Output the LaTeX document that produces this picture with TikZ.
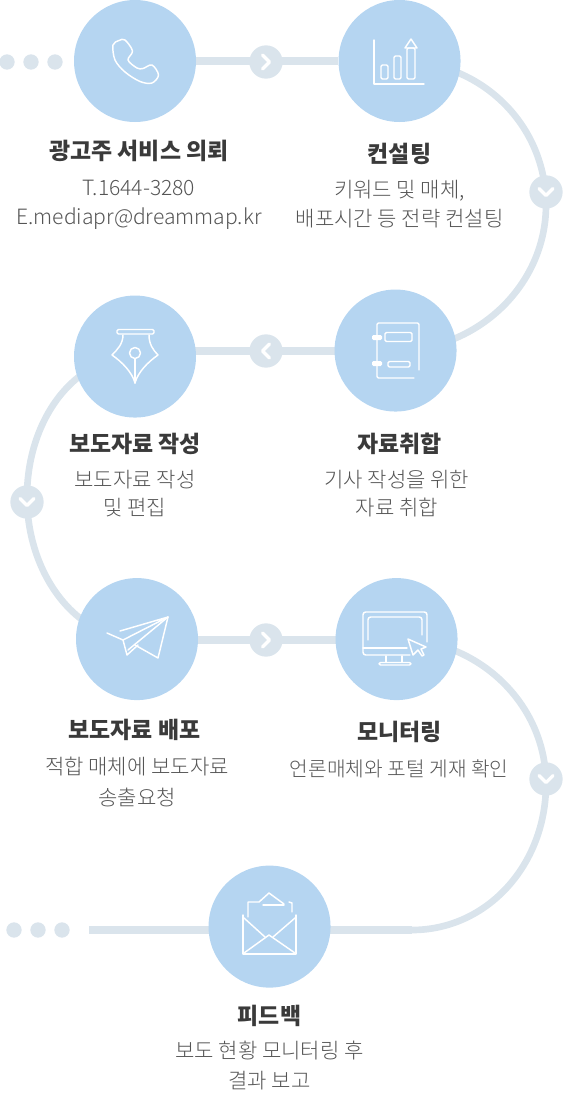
\documentclass[tikz,border=0pt]{standalone}
\usepackage{fontspec}
\setmainfont{Noto Sans CJK KR}
\newfontfamily\descfont{Noto Sans CJK KR Light}
\usetikzlibrary{positioning,backgrounds}
\definecolor{stepblue}{HTML}{B5D5F1}
\definecolor{flowgray}{HTML}{DAE4EC}
\definecolor{headgray}{HTML}{3A3A3A}
\definecolor{descgray}{HTML}{555555}
\begin{document}
\begin{tikzpicture}[x=.75pt,y=-.75pt,
 stepnode/.style={circle,fill=stepblue,minimum size=91.5pt,inner sep=0pt},
 badge/.style={circle,fill=flowgray,minimum size=25pt,inner sep=0pt},
 dotnode/.style={circle,fill=flowgray,minimum size=11.5pt,inner sep=0pt},
 flow/.style={draw=flowgray,line width=6pt},
 flowarc/.style={draw=flowgray,line width=5pt},
 chev/.style={draw=white,line width=2.4pt,line cap=round,line join=round},
 icon/.style={draw=white,line width=1.1pt,line join=round,line cap=round},
 head/.style={inner sep=0pt,text=headgray,text height=12pt,text depth=3pt,font=\fontsize{17.2pt}{20pt}\selectfont\bfseries},
 desc/.style={inner sep=0pt,align=center,text=descgray,font=\descfont\fontsize{15.8pt}{21.4pt}\selectfont}]
 \useasboundingbox (0,0) rectangle (568,1110);
 % steps
 \node[stepnode] (call) at (135,61) {};
 \node[stepnode,right=106.5pt of call] (consult) {};
 \node[stepnode,below=125.25pt of consult,xshift=-3pt] (collect) {};
 \node[stepnode,left=103.5pt of collect,yshift=-4.5pt] (write) {};
 \node[stepnode,below=120pt of write,xshift=1.5pt] (send) {};
 \node[stepnode,right=102.75pt of send] (monitor) {};
 \node[stepnode,below=123.75pt of monitor,xshift=-95.25pt] (feedback) {};
 % badges on the flow
 \node[badge] (next1) at (266,62) {};
 \node[badge] (next2) at (546,192) {};
 \node[badge] (next3) at (266,351) {};
 \node[badge] (next4) at (27,502) {};
 \node[badge] (next5) at (266,640) {};
 \node[badge] (next6) at (546,779) {};
 \foreach \n/\a in {next1/0,next2/-90,next3/180,next4/-90,next5/0,next6/-90}
  \draw[chev,shift={(\n)},rotate=\a] (-3.5,-7)--(3.5,0)--(-3.5,7);
 % dots
 \foreach \i/\x in {1/7,2/31,3/55} \node[dotnode] (dota\i) at (\x,62) {};
 \foreach \i/\x in {1/14,2/38,3/62} \node[dotnode] (dotb\i) at (\x,930) {};
 \coordinate (bend1) at (546,205);
 \coordinate (bend2) at (27,497);
 \coordinate (bend3) at (546,784);
 \coordinate (foot) at (412,930);
 \coordinate (tail) at (89,930);
 \begin{scope}[on background layer]
  \draw[flow] (call)--(consult);
  \draw[flowarc] (consult.center) .. controls +(81,0) and +(0,-81) .. (bend1) .. controls +(0,81) and +(81,0) .. (collect.center);
  \draw[flow] (next3 -| collect)--(next3 -| write);
  \draw[flowarc] (write.center) .. controls +(-60,0) and +(0,-78) .. (bend2) .. controls +(0,78) and +(-60,0) .. (send.center);
  \draw[flow] (next5 -| send)--(next5 -| monitor);
  \draw[flowarc] (monitor.center) .. controls +(81,0) and +(0,-81) .. (bend3) .. controls +(0,81) and +(75,0) .. (foot);
  \draw[flow] (tail)--(tail -| feedback)--(foot);
 \end{scope}
 % phone
 \draw[icon] plot[smooth cycle,tension=.55] coordinates {(113,45) (119,40.5) (125,40) (132.5,51) (128,60) (137,68) (143,68.5) (152,65) (158.5,75) (152,83) (140,81.5) (125,72) (115,60)};
 % chart
 \draw[icon] (374,40)--(374,84)--(424,84);
 \draw[icon,rounded corners=1pt] (381,65) rectangle (388,79);
 \draw[icon,rounded corners=1pt] (394,56) rectangle (401,79);
 \draw[icon,rounded corners=1pt] (407,48) rectangle (415,79);
 \draw[icon] (405,48)--(411,39)--(417,48)--cycle;
 % nib
 \draw[icon,rounded corners=1pt] (117,329.5) rectangle (154,334);
 \draw[icon] (123,335) .. controls (123,344) and (117,350) .. (112,355) .. controls (122,362) and (132,372) .. (135,383) .. controls (138,372) and (148,362) .. (158,355) .. controls (153,350) and (149,344) .. (149,335);
 \draw[icon] (135,353) circle (5.5);
 \draw[icon] (135,359)--(135,383);
 % notebook
 \draw[icon,rounded corners=1pt] (419,370)--(419,323)--(377,323)--(377,378)--(414,378);
 \draw[icon,rounded corners=1pt] (385,332.5) rectangle (412,341.5);
 \draw[icon,rounded corners=1pt] (388,361.5) rectangle (410,367);
 \fill[white,rounded corners=1pt] (372,335) rectangle (382,340);
 \fill[white,rounded corners=1pt] (372,361) rectangle (382,366);
 % plane
 \draw[icon] (120,631)--(168,617)--(123,640)--(107,633);
 \draw[icon] (123,640)--(127,655)--(138,645);
 \draw[icon] (168,617)--(128,650);
 \draw[icon] (135,645)--(158,658)--(168,617);
 % monitor
 \draw[icon,rounded corners=2pt] (427,642)--(427,612)--(363,612)--(363,655)--(410,655);
 \draw[icon,rounded corners=2pt] (368,640)--(368,617)--(422,617)--(422,635);
 \draw[icon] (363,648)--(407,648);
 \draw[icon] (386,656)--(386,662);
 \draw[icon] (402,656)--(402,662);
 \draw[icon,rounded corners=1pt] (379,662.5) rectangle (411,665);
 \draw[icon] (408,639)--(426,647)--(421,649)--(424,655)--(422,656)--(418,650)--(413,655)--cycle;
 % envelope
 \draw[icon] (243,915)--(243,954)--(296,954)--(296,915);
 \draw[icon] (244,918)--(265,937);
 \draw[icon] (295,918)--(273,937);
 \draw[icon] (244,953)--(269,935)--(295,953);
 \draw[icon] (248,917)--(248,902)--(259,902)--(269,893)--(284,904);
 \draw[icon] (263,905)--(284,905);
 \draw[icon] (289,902)--(292,903)--(292,912);
 % labels
 \node[head,below=16pt of call,xshift=3pt] (callhead) {광고주 서비스 의뢰};
 \node[desc,below=12pt of callhead] (calldesc) {T.1644-3280\\E.mediapr@dreammap.kr};
 \node[head,below=17.75pt of consult] (consulthead) {컨설팅};
 \node[desc,below=10.25pt of consulthead] (consultdesc) {키워드 및 매체,\\배포시간 등 전략 컨설팅};
 \node[head,below=18.5pt of collect,xshift=3pt] (collecthead) {자료취합};
 \node[desc,below=9.5pt of collecthead,xshift=-2pt] (collectdesc) {기사 작성을 위한\\자료 취합};
 \node[head,below=14pt of write] (writehead) {보도자료 작성};
 \node[desc,below=9.5pt of writehead] (writedesc) {보도자료 작성\\및 편집};
 \node[head,below=16.25pt of send,xshift=-2pt] (sendhead) {보도자료 배포};
 \node[desc,below=10.5pt of sendhead,xshift=2pt,font=\descfont\fontsize{15.8pt}{23.2pt}\selectfont] (senddesc) {적합 매체에 보도자료\\송출요청};
 \node[head,below=17.75pt of monitor,xshift=2pt] (monitorhead) {모니터링};
 \node[desc,below=11.25pt of monitorhead,font=\descfont\fontsize{15.2pt}{21.4pt}\selectfont] (monitordesc) {언론매체와 포털 게재 확인};
 \node[head,below=15.5pt of feedback] (feedbackhead) {피드백};
 \node[desc,below=9pt of feedbackhead,font=\descfont\fontsize{15.8pt}{22.5pt}\selectfont] (feedbackdesc) {보도 현황 모니터링 후\\결과 보고};
\end{tikzpicture}
\end{document}
